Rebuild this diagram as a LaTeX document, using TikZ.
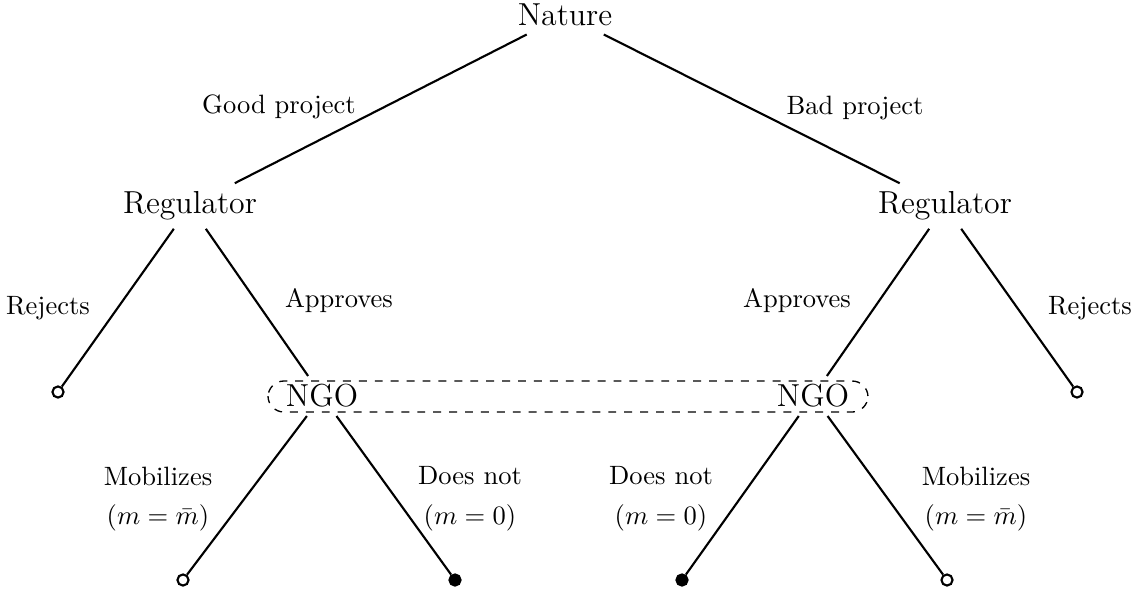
\documentclass[tikz,border=0pt]{standalone}
\begin{document}
\begin{tikzpicture}[x=0.377pt,y=-0.377pt,
  player/.style={font=\large, inner sep=3pt},
  lab/.style={font=\normalsize, inner sep=0pt},
  leaf/.style={circle, draw, line width=0.8pt, fill=white, inner sep=0pt, minimum size=4.2pt},
  payleaf/.style={leaf, fill=black},
  branch/.style={line width=0.8pt}]
\useasboundingbox (0,0) rectangle (1131,592);
% nodes
\node[player] (nat) at (565,15) {Nature};
\node[player] (reg1) at (190,206) {Regulator};
\node[player] (reg2) at (945,206) {Regulator};
\node[player] (ngo1) at (322,396) {NGO};
\node[player] (ngo2) at (813,396) {NGO};
\node[leaf] (l1) at (58,392) {};
\node[leaf] (l2) at (1077,392) {};
\node[leaf] (l3) at (183,580) {};
\node[payleaf] (l4) at (455,580) {};
\node[payleaf] (l5) at (682,580) {};
\node[leaf] (l6) at (947,580) {};
% information set
\draw[dashed, line width=0.5pt, rounded corners=6pt] (268,381) rectangle (868,412);
% branches
\draw[branch] (nat) -- (reg1);
\draw[branch] (nat) -- (reg2);
\draw[branch] (reg1) -- (l1);
\draw[branch] (reg1) -- (ngo1);
\draw[branch] (reg2) -- (ngo2);
\draw[branch] (reg2) -- (l2);
\draw[branch] (ngo1) -- (l3);
\draw[branch] (ngo1) -- (l4);
\draw[branch] (ngo2) -- (l5);
\draw[branch] (ngo2) -- (l6);
% labels
\node[lab] (t1) at (279,107) {Good project};
\node[lab] (t2) at (855,108) {Bad project};
\node[lab] (t3) at (48,308) {Rejects};
\node[lab] (t4) at (339,301) {Approves};
\node[lab] (t5) at (797,301) {Approves};
\node[lab] (t6) at (1090,308) {Rejects};
\node[lab] (t7) at (158,476) {Mobilizes};
\node[lab] (t8) at (158,518) {$(m=\bar{m})$};
\node[lab] (t9) at (470,476) {Does not};
\node[lab] (t10) at (470,518) {$(m=0)$};
\node[lab] (t11) at (661,476) {Does not};
\node[lab] (t12) at (661,518) {$(m=0)$};
\node[lab] (t13) at (976,476) {Mobilizes};
\node[lab] (t14) at (976,518) {$(m=\bar{m})$};
\end{tikzpicture}
\end{document}
